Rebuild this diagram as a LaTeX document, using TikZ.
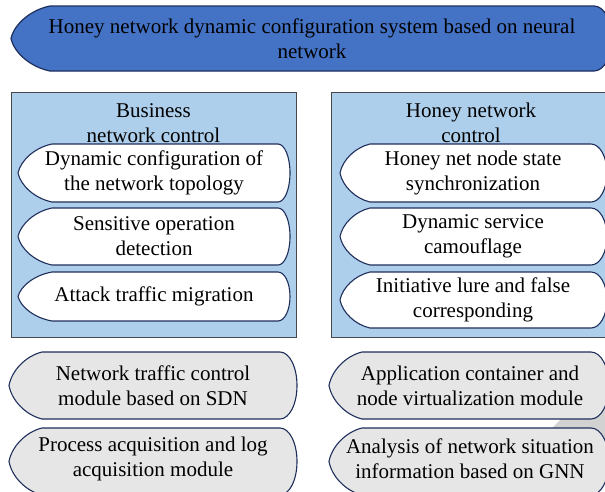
\documentclass[tikz,border=0pt]{standalone}
\usepackage{fontspec}
\setmainfont{Liberation Serif}
\definecolor{titlefill}{HTML}{4472C4}
\definecolor{navy}{HTML}{1F2F5C}
\definecolor{panelfill}{HTML}{AECFEC}
\definecolor{panelline}{HTML}{45494E}
\definecolor{modfill}{HTML}{E6E6E6}
\definecolor{wmark}{HTML}{D2D2D2}
\newcommand\dshape[7]{%
  \pgfmathsetmacro\dsm{(#4+#5)/2}%
  \pgfmathsetmacro\dsh{#5-#4}%
  \draw[#1] (#2+#6,#4) -- (#3-#7,#4)
    .. controls (#3-0.45*#7,#4) and (#3,\dsm-0.28*\dsh) .. (#3,\dsm)
    .. controls (#3,\dsm+0.28*\dsh) and (#3-0.45*#7,#5) .. (#3-#7,#5)
    -- (#2+#6,#5)
    .. controls (#2+0.5*#6,#5-0.06*\dsh) and (#2+0.08*#6,\dsm+0.22*\dsh) .. (#2,\dsm)
    .. controls (#2+0.08*#6,\dsm-0.22*\dsh) and (#2+0.5*#6,#4+0.06*\dsh) .. cycle;
}
\tikzset{
  titleshape/.style={fill=titlefill,draw=navy,line width=1.2pt},
  innershape/.style={fill=white,draw=navy,line width=1.1pt},
  modshape/.style={fill=modfill,draw=navy,line width=1.1pt},
  panel/.style={fill=panelfill,draw=panelline,line width=1pt},
  txt/.style={font=\fontsize{21}{25}\selectfont,align=center,inner sep=0pt,text=black}
}
\begin{document}
\begin{tikzpicture}[x=1pt,y=-1pt]
\useasboundingbox (0,0) rectangle (605,491);
% watermark fragment
\fill[wmark] (535,445) -- (585,395) -- (612,395) -- (612,445) -- cycle;
% title
\dshape{titleshape}{11}{612}{6}{71}{39}{18}
\node[txt] (title) at (312,38.5) {Honey network dynamic configuration system based on neural\\network};
% panels
\draw[panel] (11,92) rectangle (296,337);
\draw[panel] (331,92) rectangle (615,337);
\node[txt] (bizhead) at (153.5,123) {Business\\network control};
\node[txt] (honeyhead) at (471,123) {Honey network\\control};
% left inner
\dshape{innershape}{18}{290}{144}{202}{34}{12}
\dshape{innershape}{18}{290}{208}{265}{34}{12}
\dshape{innershape}{18}{290}{272}{321}{34}{12}
\node[txt] (dyncfg) at (154,173) {Dynamic configuration of\\the network topology};
\node[txt] (sensop) at (154,236.5) {Sensitive operation\\detection};
\node[txt] (attack) at (154,296.5) {Attack traffic migration};
% right inner
\dshape{innershape}{340}{607}{144}{202}{30}{16}
\dshape{innershape}{340}{607}{208}{265}{30}{16}
\dshape{innershape}{340}{607}{272}{328}{30}{16}
\node[txt] (sync) at (473,173) {Honey net node state\\synchronization};
\node[txt] (camo) at (473,236.5) {Dynamic service\\camouflage};
\node[txt] (lure) at (473,300) {Initiative lure and false\\corresponding};
% modules
\dshape{modshape}{9}{297}{352}{419}{33}{17}
\dshape{modshape}{9}{297}{428}{495}{33}{17}
\dshape{modshape}{329}{609}{352}{419}{33}{18}
\dshape{modshape}{329}{609}{428}{495}{33}{18}
\node[txt] (sdn) at (153,385.5) {Network traffic control\\module based on SDN};
\node[txt] (proc) at (153,459) {Process acquisition and log\\acquisition module};
\node[txt] (appc) at (470,385.5) {Application container and\\node virtualization module};
\node[txt] (gnn) at (470,459) {Analysis of network situation\\information based on GNN};
\end{tikzpicture}
\end{document}
